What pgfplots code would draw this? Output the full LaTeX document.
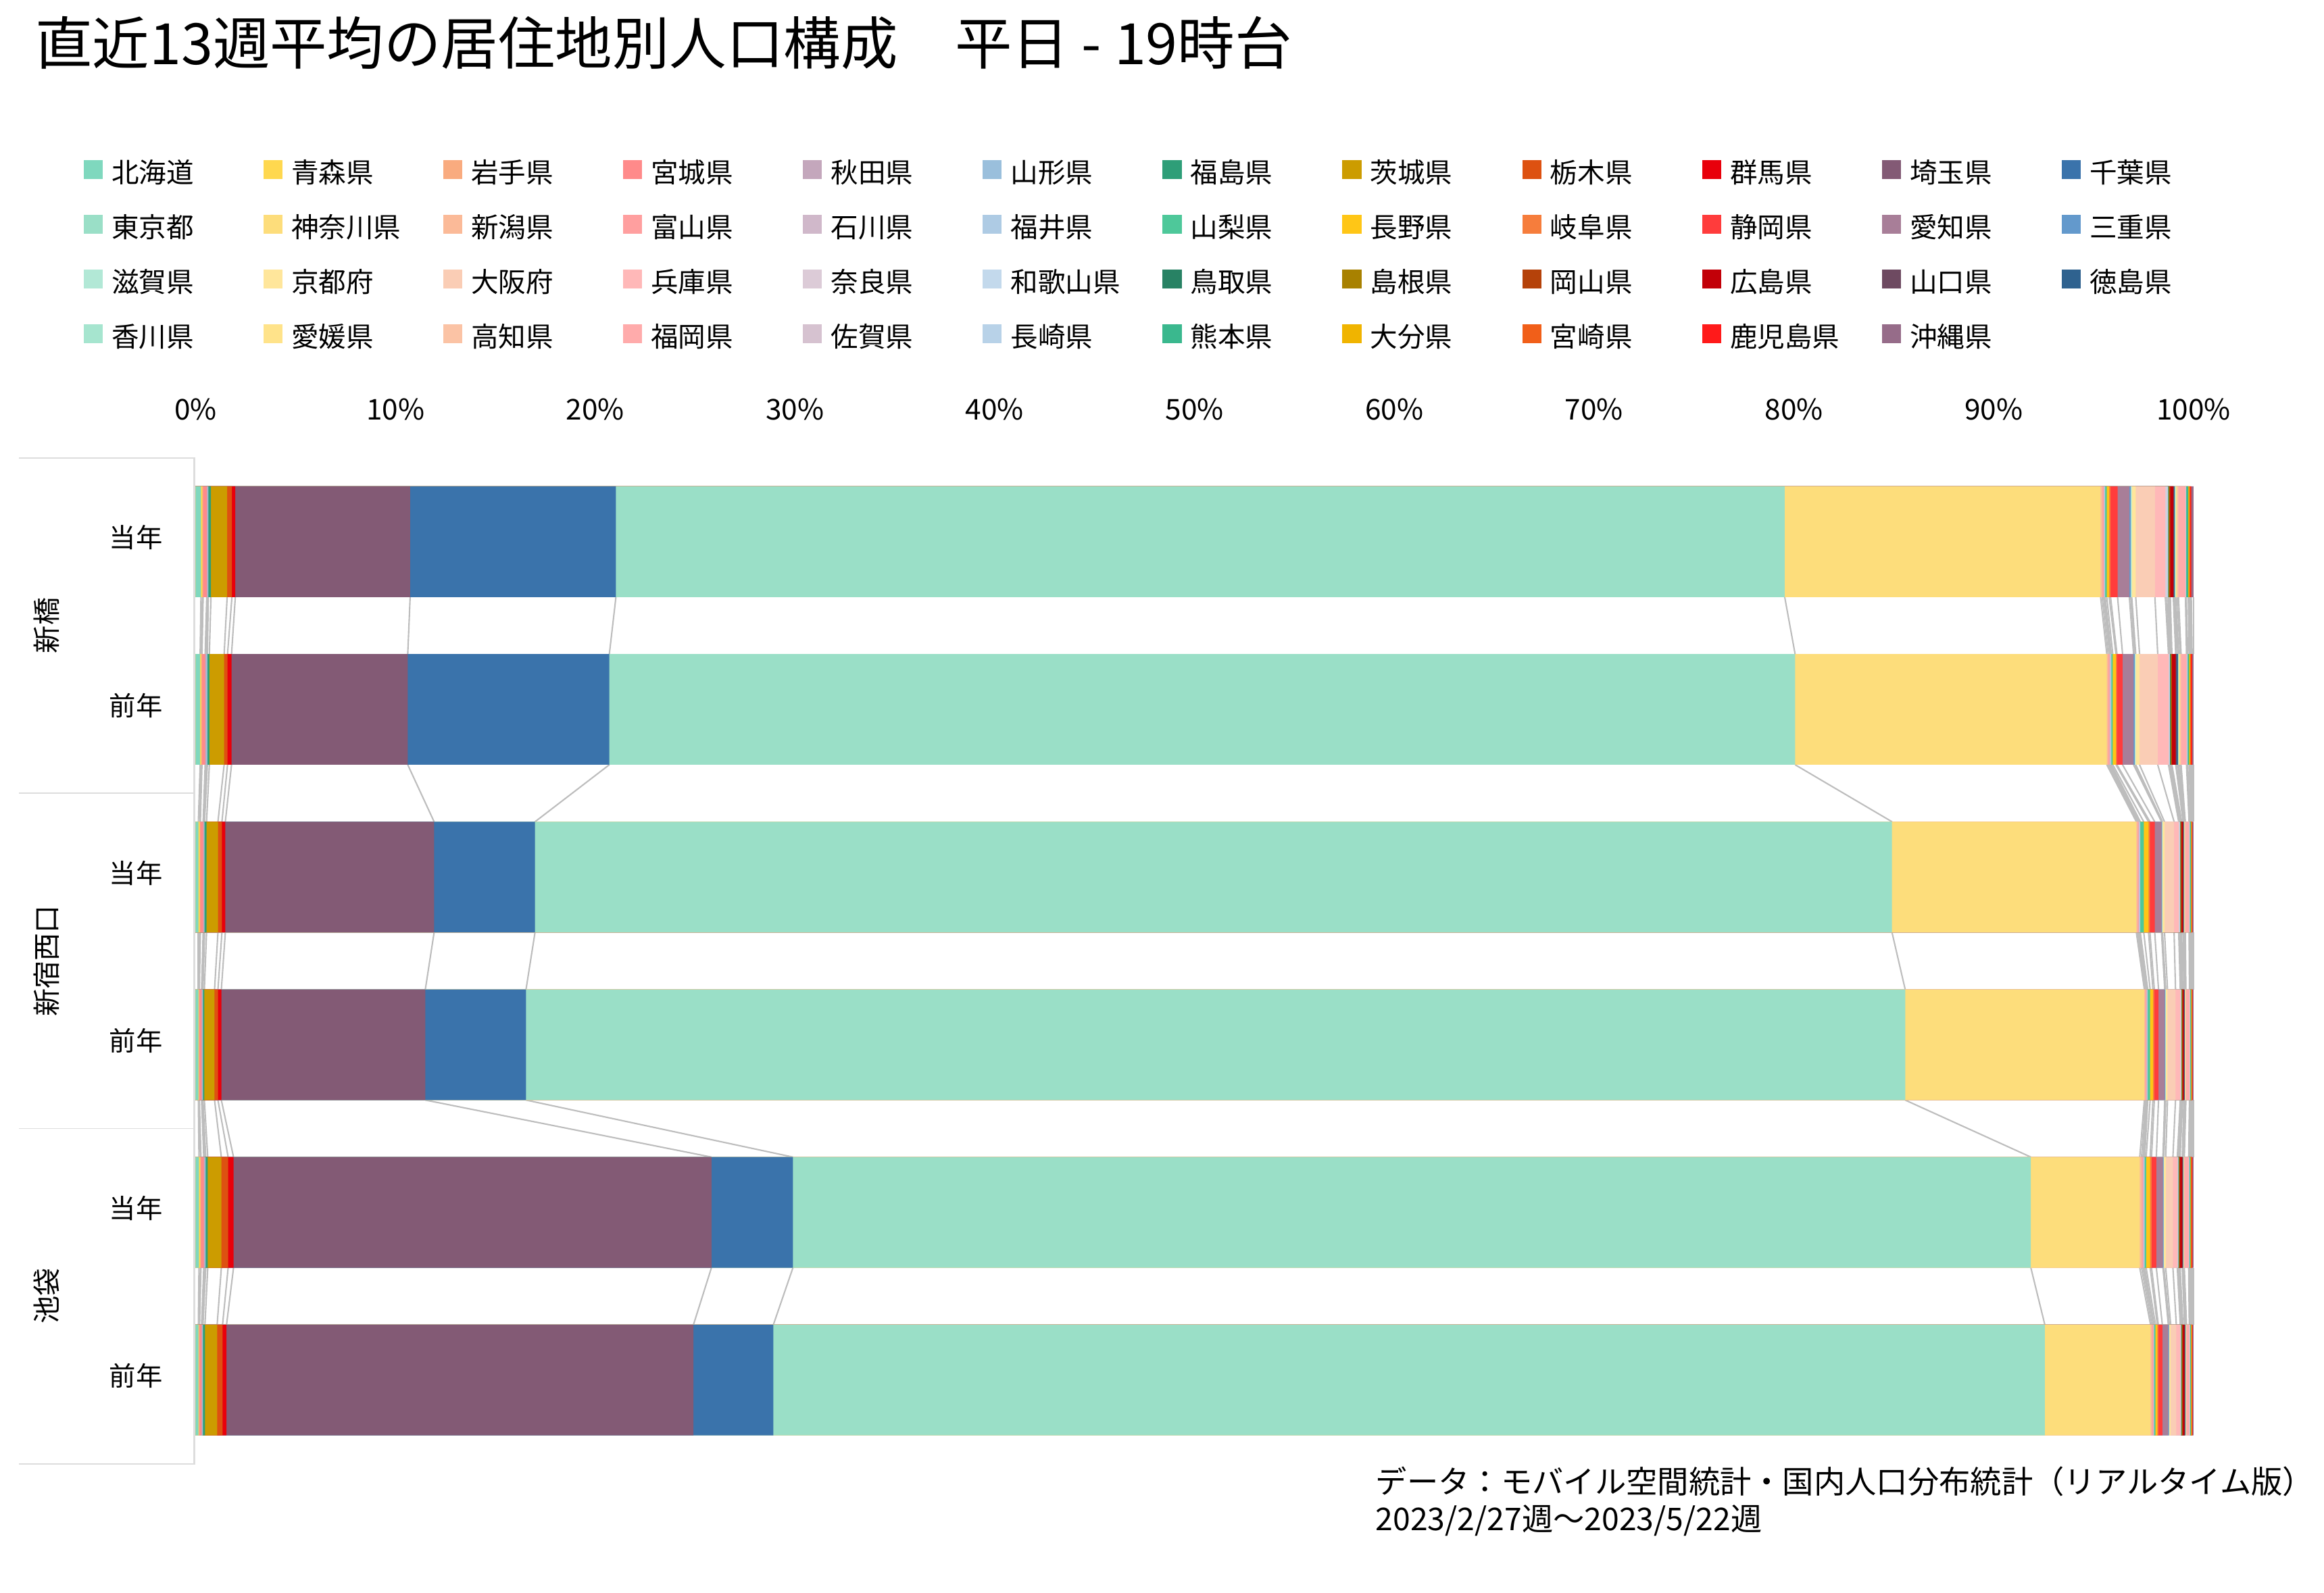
\documentclass[border=0pt]{standalone}
\usepackage{fontspec}
\setmainfont{Noto Sans CJK JP}
\usepackage{pgfplots}
\usepackage{pgfplotstable}
\pgfplotsset{compat=1.18}
\definecolor{p1}{HTML}{7FD8BE}\definecolor{p2}{HTML}{FFD84F}\definecolor{p3}{HTML}{F9AB7F}\definecolor{p4}{HTML}{FF8A8A}
\definecolor{p5}{HTML}{C4A7BC}\definecolor{p6}{HTML}{9ABFDC}\definecolor{p7}{HTML}{2E9E78}\definecolor{p8}{HTML}{CC9C00}
\definecolor{p9}{HTML}{DD5111}\definecolor{p10}{HTML}{E8000B}\definecolor{p11}{HTML}{835A75}\definecolor{p12}{HTML}{3A73AB}
\definecolor{p13}{HTML}{9ADFC7}\definecolor{p14}{HTML}{FDDD7B}\definecolor{p15}{HTML}{FBBA98}\definecolor{p16}{HTML}{FF9F9F}
\definecolor{p17}{HTML}{D0B8CA}\definecolor{p18}{HTML}{AECBE4}\definecolor{p19}{HTML}{4EC89A}\definecolor{p20}{HTML}{FFC616}
\definecolor{p21}{HTML}{F67D3C}\definecolor{p22}{HTML}{FF3C3C}\definecolor{p23}{HTML}{A87E98}\definecolor{p24}{HTML}{6399CC}
\definecolor{p25}{HTML}{B2E8D6}\definecolor{p26}{HTML}{FFE69B}\definecolor{p27}{HTML}{FACDB5}\definecolor{p28}{HTML}{FFB8B8}
\definecolor{p29}{HTML}{DCCBD7}\definecolor{p30}{HTML}{C3D9EC}\definecolor{p31}{HTML}{288264}\definecolor{p32}{HTML}{A88100}
\definecolor{p33}{HTML}{B5420A}\definecolor{p34}{HTML}{C20008}\definecolor{p35}{HTML}{6E4A61}\definecolor{p36}{HTML}{2F628F}
\definecolor{p37}{HTML}{A6E5CF}\definecolor{p38}{HTML}{FFE38A}\definecolor{p39}{HTML}{FBC3A5}\definecolor{p40}{HTML}{FFABAB}
\definecolor{p41}{HTML}{D6C2D0}\definecolor{p42}{HTML}{B8D2E8}\definecolor{p43}{HTML}{3AB88E}\definecolor{p44}{HTML}{F0B400}
\definecolor{p45}{HTML}{F15F19}\definecolor{p46}{HTML}{FF1A1A}\definecolor{p47}{HTML}{966C89}
\definecolor{linegray}{HTML}{BDBDBD}
\definecolor{boxgray}{HTML}{DDDDDD}

\pgfplotstableread{
b1 b2 b3 b4 b5 b6
0.27 0.23 0.14 0.14 0.17 0.14
0.07 0.05 0.07 0.03 0.07 0.03
0.04 0.04 0.03 0.02 0.03 0.03
0.18 0.16 0.14 0.11 0.14 0.10
0.05 0.06 0.04 0.04 0.05 0.04
0.03 0.05 0.03 0.03 0.05 0.03
0.13 0.10 0.10 0.07 0.10 0.10
0.81 0.74 0.57 0.51 0.68 0.61
0.24 0.17 0.20 0.17 0.34 0.27
0.17 0.20 0.17 0.17 0.27 0.20
8.75 8.82 10.45 10.21 23.92 23.37
10.30 10.09 5.05 5.04 4.08 4.00
58.50 59.35 67.92 69.03 61.96 63.64
15.81 15.60 12.23 11.97 5.45 5.29
0.08 0.07 0.06 0.05 0.09 0.07
0.07 0.07 0.05 0.05 0.07 0.07
0.04 0.05 0.04 0.04 0.05 0.02
0.04 0.04 0.05 0.03 0.04 0.02
0.08 0.07 0.17 0.12 0.07 0.07
0.12 0.16 0.24 0.14 0.20 0.09
0.07 0.05 0.07 0.07 0.07 0.05
0.35 0.28 0.24 0.21 0.24 0.20
0.59 0.55 0.34 0.31 0.33 0.30
0.07 0.06 0.03 0.03 0.03 0.03
0.05 0.05 0.02 0.02 0.02 0.02
0.20 0.19 0.10 0.09 0.09 0.07
0.96 0.91 0.48 0.40 0.36 0.28
0.52 0.54 0.23 0.24 0.22 0.20
0.07 0.035 0.04 0.03 0.03 0.02
0.07 0.035 0.03 0.02 0.03 0.02
0.03 0.04 0.02 0.02 0.02 0.03
0.03 0.03 0.02 0.02 0.02 0.02
0.05 0.03 0.04 0.03 0.04 0.04
0.15 0.19 0.07 0.06 0.11 0.08
0.03 0.04 0.02 0.02 0.02 0.02
0.03 0.07 0.02 0.02 0.02 0.02
0.06 0.04 0.02 0.02 0.02 0.02
0.07 0.07 0.03 0.02 0.02 0.02
0.07 0.05 0.02 0.02 0.02 0.02
0.35 0.27 0.19 0.18 0.22 0.14
0.02 0.03 0.02 0.02 0.02 0.02
0.02 0.03 0.02 0.02 0.02 0.02
0.10 0.07 0.05 0.04 0.05 0.04
0.05 0.05 0.03 0.03 0.03 0.03
0.05 0.05 0.02 0.02 0.03 0.03
0.05 0.05 0.03 0.03 0.04 0.03
0.11 0.07 0.05 0.04 0.05 0.04
}\W
\pgfplotstablecreatecol[create col/expr accum={\pgfmathaccuma + \thisrow{b1}}{0}]{c1}\W
\pgfplotstablecreatecol[create col/expr accum={\pgfmathaccuma + \thisrow{b2}}{0}]{c2}\W
\pgfplotstablecreatecol[create col/expr accum={\pgfmathaccuma + \thisrow{b3}}{0}]{c3}\W
\pgfplotstablecreatecol[create col/expr accum={\pgfmathaccuma + \thisrow{b4}}{0}]{c4}\W
\pgfplotstablecreatecol[create col/expr accum={\pgfmathaccuma + \thisrow{b5}}{0}]{c5}\W
\pgfplotstablecreatecol[create col/expr accum={\pgfmathaccuma + \thisrow{b6}}{0}]{c6}\W
\pgfplotstabletranspose[columns={c1,c2,c3,c4,c5,c6}]\C\W

\begin{document}
\begin{tikzpicture}
\path[use as bounding box] (-95.6pt,-63pt) rectangle (1040.4pt,715.8pt);
\begin{axis}[
  scale only axis, width=976.6pt, height=491.9pt,
  at={(0pt,0pt)}, anchor=south west,
  xmin=0, xmax=100, ymin=-0.5, ymax=5.5,
  clip=false,
  axis line style={draw=none},
  major tick length=0pt, tick style={draw=none},
  xtick={0,10,...,100},
  xticklabels={0\%,10\%,20\%,30\%,40\%,50\%,60\%,70\%,80\%,90\%,100\%},
  xticklabel pos=upper,
  xticklabel style={font=\fontsize{14}{16}\selectfont, anchor=base, inner sep=0pt, yshift=18.5pt},
  ytick={0,1,2,3,4,5},
  yticklabels={前年,当年,前年,当年,前年,当年},
  yticklabel style={font=\fontsize{13}{15}\selectfont, anchor=east, inner sep=0pt, xshift=-15.9pt, yshift=2pt},
  legend image code/.code={\fill[#1] (0pt,-1.9pt) rectangle (9.3pt,7.3pt);},
  legend columns=12,
  legend cell align=left,
  legend style={draw=none, fill=none, inner sep=0pt, outer sep=0pt,
    at={([xshift=-54.7pt,yshift=145.5pt]axis description cs:0,1)}, anchor=north west,
    font=\fontsize{13.4}{15}\selectfont,
    row sep=13.2pt,
    nodes={text height=10pt, text depth=2.5pt, inner ysep=0pt, inner xsep=0pt, text width=74.25pt},
    /tikz/every odd column/.append style={column sep=4.35pt},
    /tikz/every even column/.append style={column sep=0pt}},
  legend entries={北海道,青森県,岩手県,宮城県,秋田県,山形県,福島県,茨城県,栃木県,群馬県,埼玉県,千葉県,
    東京都,神奈川県,新潟県,富山県,石川県,福井県,山梨県,長野県,岐阜県,静岡県,愛知県,三重県,
    滋賀県,京都府,大阪府,兵庫県,奈良県,和歌山県,鳥取県,島根県,岡山県,広島県,山口県,徳島県,
    香川県,愛媛県,高知県,福岡県,佐賀県,長崎県,熊本県,大分県,宮崎県,鹿児島県,沖縄県},
]
\pgfplotsinvokeforeach{1,...,47}{\addlegendimage{fill=p#1, draw=none}}
% connecting lines between consecutive bars
\addplot[forget plot, draw=linegray, line width=0.7pt, quiver={u=\thisrow{c2}-\thisrow{c1}, v=-0.34}] table[x=c1, y expr=4.67]{\W};
\addplot[forget plot, draw=linegray, line width=0.7pt, quiver={u=\thisrow{c3}-\thisrow{c2}, v=-0.34}] table[x=c2, y expr=3.67]{\W};
\addplot[forget plot, draw=linegray, line width=0.7pt, quiver={u=\thisrow{c4}-\thisrow{c3}, v=-0.34}] table[x=c3, y expr=2.67]{\W};
\addplot[forget plot, draw=linegray, line width=0.7pt, quiver={u=\thisrow{c5}-\thisrow{c4}, v=-0.34}] table[x=c4, y expr=1.67]{\W};
\addplot[forget plot, draw=linegray, line width=0.7pt, quiver={u=\thisrow{c6}-\thisrow{c5}, v=-0.34}] table[x=c5, y expr=0.67]{\W};
% bars: cumulative, drawn from last to first
\pgfplotsinvokeforeach{47,46,...,1}{
  \addplot[forget plot, xbar, bar width=0.66, bar shift=0pt, fill=p#1, draw=none] table[x index=#1, y expr=5-\coordindex]{\C};
}
% group frame
\draw[boxgray, line width=0.6pt] ([xshift=-86.3pt]axis cs:0,5.5) -- (axis cs:0,5.5);
\draw[boxgray, line width=0.6pt] ([xshift=-86.3pt]axis cs:0,3.5) -- (axis cs:0,3.5);
\draw[boxgray, line width=0.6pt] ([xshift=-86.3pt]axis cs:0,1.5) -- (axis cs:0,1.5);
\draw[boxgray, line width=0.6pt] ([xshift=-86.3pt]axis cs:0,-0.5) -- (axis cs:0,-0.5);
\draw[boxgray, line width=1pt] ([xshift=-0.6pt]axis cs:0,-0.5) -- ([xshift=-0.6pt]axis cs:0,5.5);
\node[rotate=90, font=\fontsize{13.6}{15}\selectfont, anchor=center] at ([xshift=-72.8pt]axis cs:0,4.5) {新橋};
\node[rotate=90, font=\fontsize{13.6}{15}\selectfont, anchor=center] at ([xshift=-72.8pt]axis cs:0,2.5) {新宿西口};
\node[rotate=90, font=\fontsize{13.6}{15}\selectfont, anchor=center] at ([xshift=-72.8pt]axis cs:0,0.5) {池袋};
% title and source
\node[anchor=base west, inner sep=0pt, font=\fontsize{27.9}{32}\selectfont] at ([xshift=-78.5pt,yshift=192.4pt]axis cs:0,5.5) {直近13週平均の居住地別人口構成　平日 - 19時台};
\node[anchor=base west, inner sep=0pt, font=\fontsize{15.3}{17}\selectfont] at ([xshift=576.7pt,yshift=-14.5pt]axis cs:0,-0.5) {データ：モバイル空間統計・国内人口分布統計（リアルタイム版）};
\node[anchor=base west, inner sep=0pt, font=\fontsize{15.3}{17}\selectfont] at ([xshift=576.7pt,yshift=-32.4pt]axis cs:0,-0.5) {2023/2/27週～2023/5/22週};
\end{axis}
\end{tikzpicture}
\end{document}
